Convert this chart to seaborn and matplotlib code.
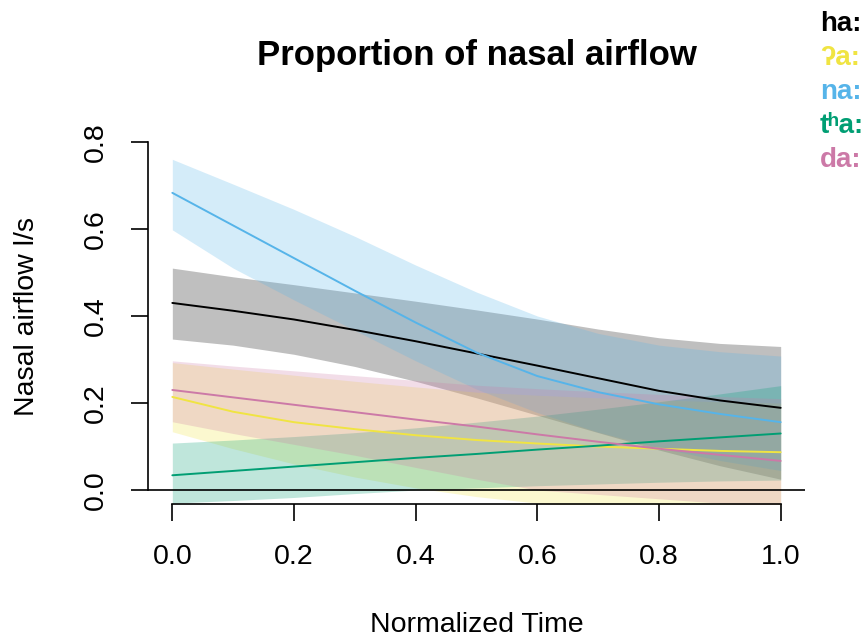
import numpy as np
import pandas as pd
import matplotlib
matplotlib.use("Agg")
import matplotlib.pyplot as plt
import seaborn as sns

# ---- data ----
time = [0.0, 0.1, 0.2, 0.3, 0.4, 0.5, 0.6, 0.7, 0.8, 0.9, 1.0]

segments = ["ha:", "ʔa:", "na:", "tʰa:", "da:"]
colors = ["#000000", "#F0E442", "#56B4E9", "#009E73", "#CC79A7"]

ha_fit = [0.430, 0.412, 0.392, 0.368, 0.342, 0.314, 0.286, 0.257, 0.228, 0.206, 0.189]
ha_hi  = [0.510, 0.490, 0.472, 0.453, 0.434, 0.414, 0.393, 0.370, 0.350, 0.337, 0.330]
ha_lo  = [0.347, 0.333, 0.312, 0.284, 0.250, 0.212, 0.172, 0.132, 0.092, 0.056, 0.025]

glottal_fit = [0.214, 0.180, 0.156, 0.140, 0.126, 0.115, 0.107, 0.100, 0.095, 0.090, 0.087]
glottal_hi  = [0.293, 0.278, 0.264, 0.250, 0.237, 0.225, 0.218, 0.212, 0.207, 0.203, 0.200]
glottal_lo  = [0.134, 0.095, 0.060, 0.030, 0.005, -0.015, -0.030, -0.040, -0.050, -0.055, -0.060]

na_fit = [0.683, 0.608, 0.533, 0.458, 0.385, 0.316, 0.262, 0.225, 0.197, 0.175, 0.156]
na_hi  = [0.760, 0.703, 0.645, 0.583, 0.517, 0.455, 0.400, 0.360, 0.333, 0.318, 0.308]
na_lo  = [0.598, 0.510, 0.437, 0.367, 0.297, 0.232, 0.178, 0.133, 0.097, 0.068, 0.045]

tha_fit = [0.034, 0.044, 0.054, 0.064, 0.074, 0.083, 0.093, 0.102, 0.112, 0.121, 0.130]
tha_hi  = [0.108, 0.115, 0.123, 0.132, 0.143, 0.156, 0.170, 0.186, 0.203, 0.221, 0.240]
tha_lo  = [-0.030, -0.024, -0.017, -0.008, 0.000, 0.005, 0.010, 0.014, 0.018, 0.021, 0.023]

da_fit = [0.230, 0.213, 0.196, 0.179, 0.162, 0.146, 0.128, 0.111, 0.095, 0.081, 0.067]
da_hi  = [0.297, 0.285, 0.274, 0.263, 0.252, 0.241, 0.233, 0.226, 0.220, 0.215, 0.210]
da_lo  = [0.157, 0.130, 0.105, 0.080, 0.052, 0.025, 0.000, -0.010, -0.020, -0.030, -0.040]

fits = [ha_fit, glottal_fit, na_fit, tha_fit, da_fit]
his = [ha_hi, glottal_hi, na_hi, tha_hi, da_hi]
los = [ha_lo, glottal_lo, na_lo, tha_lo, da_lo]

x_ticks = [0.0, 0.2, 0.4, 0.6, 0.8, 1.0]
y_ticks = [0.0, 0.2, 0.4, 0.6, 0.8]

# ---- figure ----
sns.set_theme(style="white")
plt.rcParams["font.family"] = ["Liberation Sans", "DejaVu Sans"]

W, H = 867, 641
fig = plt.figure(figsize=(W / 100, H / 100), dpi=100)
ax = fig.add_axes([148 / W, 1 - 504 / H, (805 - 148) / W, (504 - 128) / H])

for seg, col, lo, hi in zip(segments, colors, los, his):
    ax.fill_between(time, lo, hi, color=col, alpha=0.25, linewidth=0)

rows = []
for seg, fit in zip(segments, fits):
    for t, v in zip(time, fit):
        rows.append({"time": t, "flow": v, "segment": seg})
df = pd.DataFrame(rows)

sns.lineplot(data=df, x="time", y="flow", hue="segment", hue_order=segments,
             palette=dict(zip(segments, colors)), estimator=None, legend=False,
             linewidth=1.4, ax=ax)

ax.axhline(0, color="black", linewidth=1.2)

ax.set_xlim(-0.04, 1.04)
ax.set_ylim(-0.032, 0.832)

for s in ["top", "right"]:
    ax.spines[s].set_visible(False)
for s in ["left", "bottom"]:
    ax.spines[s].set_color("black")
    ax.spines[s].set_linewidth(1.2)
ax.spines["left"].set_bounds(0, 0.8)
ax.spines["bottom"].set_bounds(0, 1)

ax.set_xticks(x_ticks)
ax.set_xticklabels([f"{v:.1f}" for v in x_ticks])
ax.set_yticks(y_ticks)
ax.set_yticklabels([f"{v:.1f}" for v in y_ticks], rotation=90, va="center")
ax.tick_params(axis="both", direction="out", length=12, width=1.2, color="black",
               labelsize=20.5, labelcolor="black")
ax.tick_params(axis="x", pad=17, bottom=True)
ax.tick_params(axis="y", pad=16, left=True)
ax.grid(False)

ax.set_xlabel("Normalized Time", fontsize=20.5, color="black")
ax.xaxis.label.set_va("center")
ax.xaxis.set_label_coords(0.5, (504 - 625) / (504 - 128))
ax.set_ylabel("Nasal airflow l/s", fontsize=20.5, color="black")
ax.yaxis.label.set_va("center")
ax.yaxis.set_label_coords((27 - 148) / (805 - 148), 0.5)

fig.text(477 / W, 1 - 55 / H, "Proportion of nasal airflow", ha="center", va="center",
         fontsize=25, fontweight="bold", color="black")

for i, (seg, col) in enumerate(zip(segments, colors)):
    fig.text(820 / W, 1 - (31 + 34 * i) / H, seg, ha="left", va="baseline",
             fontsize=20, fontweight="bold", color=col)

fig.savefig("out.png", dpi=100)
